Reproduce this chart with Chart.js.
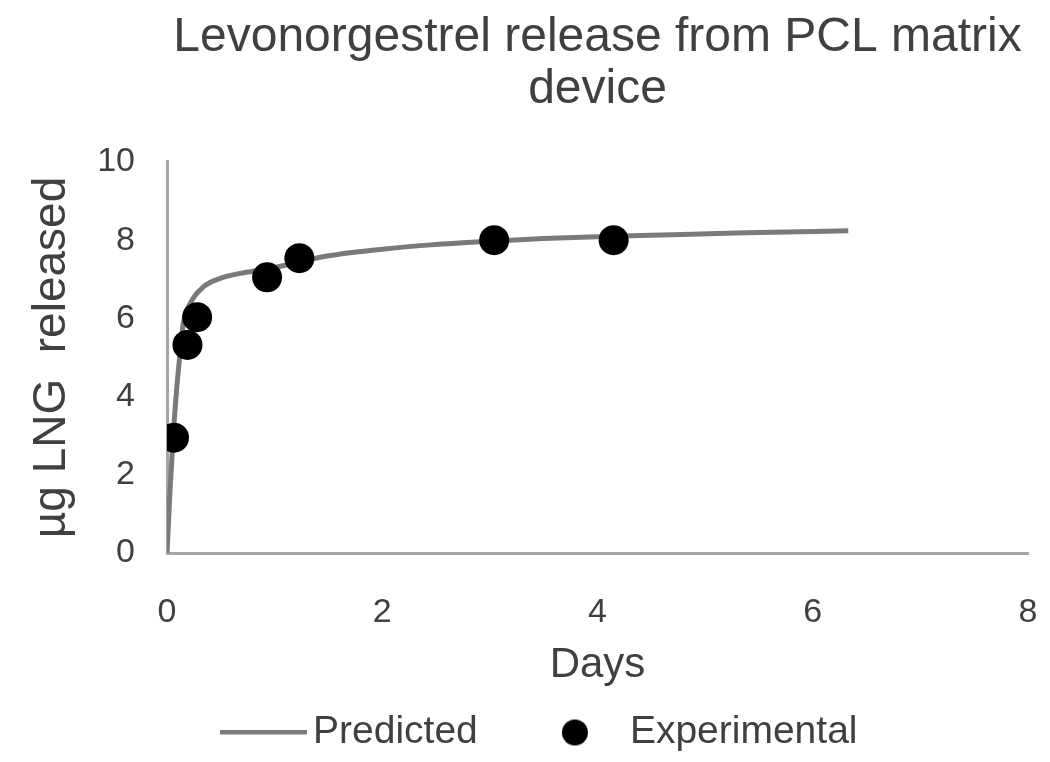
<!DOCTYPE html>
<html>
<head>
<meta charset="utf-8">
<title>Levonorgestrel release</title>
<script src="https://cdn.jsdelivr.net/npm/chart.js@4.4.1/dist/chart.umd.min.js"></script>
<style>
  html, body { margin: 0; padding: 0; background: #ffffff; }
  #chart { display: block; }
</style>
</head>
<body>
<canvas id="chart" width="1050" height="762"></canvas>
<script>
"use strict";

// predicted curve (days, ug released)
var predictedDays = [0, 0.03, 0.056, 0.09, 0.115, 0.15, 0.215, 0.34, 0.5, 0.68, 0.9, 1.0, 1.24, 1.5, 1.7, 2.0, 2.45, 3.05, 3.5, 4.14, 4.7, 5.38, 6.33];
var predictedValues = [0, 1.7, 2.94, 4.2, 4.94, 5.85, 6.38, 6.81, 7.03, 7.15, 7.25, 7.3, 7.45, 7.6, 7.68, 7.77, 7.88, 7.98, 8.04, 8.1, 8.14, 8.19, 8.24];

// experimental points
var experimentalDays = [0.065, 0.19, 0.28, 0.93, 1.23, 3.04, 4.15];
var experimentalValues = [2.95, 5.32, 6.03, 7.05, 7.54, 8.0, 8.0];

var seriesLabels = ["Predicted", "Experimental"];
var xTicks = [0, 2, 4, 6, 8];
var yTicks = [0, 2, 4, 6, 8, 10];

var FONT = "'Liberation Sans', Arial, Helvetica, sans-serif";
var TEXT_COLOR = "#404040";
var LINE_COLOR = "#7a7a7a";
var AXIS_COLOR = "#a6a6a6";

function toPoints(xs, ys) {
    var pts = [];
    for (var i = 0; i < xs.length; i++) {
        pts.push({ x: xs[i], y: ys[i] });
    }
    return pts;
}

// legend markers drawn on small canvases so the line sample can be long
function makeLineMark() {
    var c = document.createElement("canvas");
    c.width = 139;
    c.height = 6;
    var g = c.getContext("2d");
    g.fillStyle = LINE_COLOR;
    g.fillRect(52, 0, 87, 5);
    return c;
}
function makeDotMark() {
    var c = document.createElement("canvas");
    c.width = 69;
    c.height = 28;
    var g = c.getContext("2d");
    g.fillStyle = "#000000";
    g.beginPath();
    g.arc(55, 14, 13, 0, Math.PI * 2);
    g.fill();
    return c;
}
var legendMarks = [makeLineMark(), makeDotMark()];

var ctx = document.getElementById("chart");
var chart = new Chart(ctx, {
    type: "scatter",
    data: {
        datasets: [
            {
                label: seriesLabels[0],
                data: toPoints(predictedDays, predictedValues),
                showLine: true,
                borderColor: LINE_COLOR,
                borderWidth: 5,
                pointRadius: 0,
                cubicInterpolationMode: "monotone",
                fill: false,
                order: 2
            },
            {
                label: seriesLabels[1],
                data: toPoints(experimentalDays, experimentalValues),
                showLine: false,
                pointRadius: 15,
                pointBackgroundColor: "#000000",
                pointBorderWidth: 0,
                order: 1
            }
        ]
    },
    options: {
        responsive: false,
        animation: false,
        devicePixelRatio: 1,
        layout: { padding: { top: 0, left: 0, right: 11, bottom: 0 } },
        plugins: {
            tooltip: { enabled: false },
            title: {
                display: true,
                fullSize: false,
                text: ["Levonorgestrel release from PCL matrix", "device"],
                color: TEXT_COLOR,
                font: { family: FONT, size: 48, weight: "normal", lineHeight: 1.08 },
                padding: { top: 12, bottom: 46.3 }
            },
            legend: {
                display: true,
                position: "bottom",
                labels: {
                    usePointStyle: true,
                    pointStyleWidth: 112,
                    padding: 20.6,
                    color: TEXT_COLOR,
                    font: { family: FONT, size: 39 },
                    generateLabels: function (chart) {
                        return chart.data.datasets.map(function (ds, i) {
                            return {
                                text: ds.label,
                                pointStyle: legendMarks[i],
                                datasetIndex: i,
                                fillStyle: "transparent",
                                strokeStyle: "transparent",
                                lineWidth: 0,
                                fontColor: TEXT_COLOR
                            };
                        });
                    }
                }
            }
        },
        scales: {
            x: {
                type: "linear",
                min: xTicks[0],
                max: xTicks[xTicks.length - 1],
                grid: { display: false },
                border: { display: true, color: AXIS_COLOR, width: 3 },
                ticks: {
                    stepSize: 2,
                    padding: 31,
                    color: TEXT_COLOR,
                    font: { family: FONT, size: 34 },
                    maxRotation: 0
                },
                title: {
                    display: true,
                    text: "Days",
                    color: TEXT_COLOR,
                    font: { family: FONT, size: 42 },
                    padding: { top: 15.5, bottom: 1.7 }
                },
                afterFit: function (scale) {
                    scale.height = 139.4;
                    // the tick padding is also added sideways; keep the right edge at 8 days = 1028px
                    scale.paddingRight = 22;
                    scale.paddingLeft = 0;
                }
            },
            y: {
                type: "linear",
                min: yTicks[0],
                max: yTicks[yTicks.length - 1],
                grid: { display: false },
                border: { display: true, color: AXIS_COLOR, width: 3 },
                ticks: {
                    stepSize: 2,
                    padding: 24,
                    color: TEXT_COLOR,
                    font: { family: FONT, size: 34 }
                },
                title: {
                    display: true,
                    text: "\u00b5g LNG  released",
                    color: TEXT_COLOR,
                    font: { family: FONT, size: 46 },
                    padding: { top: 25, bottom: 0 }
                },
                afterFit: function (scale) {
                    scale.width = 167;
                }
            }
        }
    }
});
</script>
</body>
</html>
